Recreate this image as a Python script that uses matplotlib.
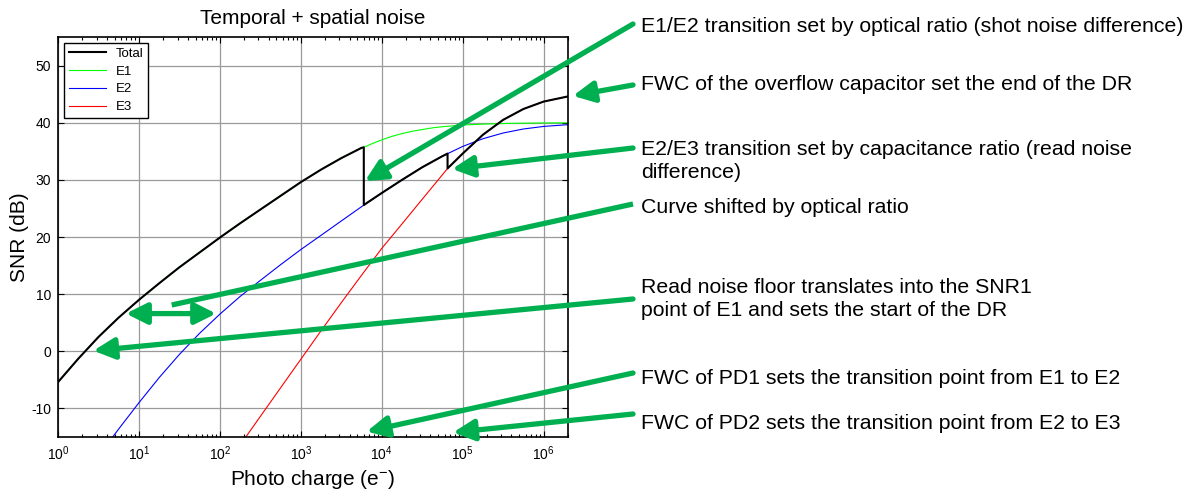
"""SNR vs photo charge for a three-exposure (E1/E2/E3) pixel, with annotations."""

import matplotlib.pyplot as plt

plt.rcParams['font.family'] = ['Liberation Sans', 'DejaVu Sans']
plt.rcParams['mathtext.fontset'] = 'custom'
plt.rcParams['mathtext.rm'] = 'Liberation Sans'
plt.rcParams['mathtext.it'] = 'Liberation Sans:italic'
plt.rcParams['axes.unicode_minus'] = False

# E1 - high conversion gain, large photodiode
e1_charge = [1, 1.78, 3.16, 5.62, 10, 17.8, 31.6, 56.2, 100, 178, 316, 562,
             1e3, 1.78e3, 3.16e3, 5.62e3, 6e3, 7.5e3, 1e4, 1.33e4, 1.78e4,
             2.37e4, 3.16e4, 4.22e4, 5.62e4, 1e5, 1.78e5, 3.16e5, 5.62e5, 1e6, 2e6]
e1_snr = [-5.4, -1.3, 2.5, 5.9, 9.0, 11.9, 14.7, 17.3, 19.9, 22.4, 24.8, 27.2,
          29.6, 31.8, 33.8, 35.6, 35.7, 36.3, 37.0, 37.6, 38.1,
          38.5, 38.8, 39.1, 39.3, 39.6, 39.75, 39.86, 39.92, 39.96, 39.98]

# E2 - small photodiode (shifted by optical ratio)
e2_charge = [3.16, 5.62, 10, 17.8, 31.6, 56.2, 100, 178, 316, 562, 1e3, 1.78e3,
             3.16e3, 5.62e3, 1e4, 1.78e4, 3.16e4, 5.62e4, 1e5, 1.78e5, 3.16e5,
             5.62e5, 1e6, 2e6]
e2_snr = [-18.3, -13.6, -9.0, -4.6, -0.55, 3.15, 6.5, 9.6, 12.4, 15.15, 17.8, 20.3,
          22.8, 25.3, 27.7, 30.0, 32.2, 34.15, 35.85, 37.2, 38.2,
          38.9, 39.35, 39.66]

# E3 - overflow capacitor (low conversion gain)
e3_charge = [178, 316, 562, 1e3, 1.78e3, 3.16e3, 5.62e3, 1e4, 1.78e4, 3.16e4,
             5.62e4, 6.5e4, 1e5, 1.78e5, 3.16e5, 5.62e5, 1e6, 2e6]
e3_snr = [-16.4, -11.4, -6.4, -1.4, 3.6, 8.5, 13.3, 18.0, 22.3, 26.6,
          30.9, 32.0, 34.6, 37.9, 40.5, 42.4, 43.7, 44.6]

# Total = E1 up to FWC of PD1, E2 up to FWC of PD2, then E3
total_charge = [1, 1.78, 3.16, 5.62, 10, 17.8, 31.6, 56.2, 100, 178, 316, 562,
                1e3, 1.78e3, 3.16e3, 5.62e3, 6e3, 6e3, 1e4, 1.78e4, 3.16e4, 5.62e4,
                6.5e4, 6.5e4, 1e5, 1.78e5, 3.16e5, 5.62e5, 1e6, 2e6]
total_snr = [-5.4, -1.3, 2.5, 5.9, 9.0, 11.9, 14.7, 17.3, 19.9, 22.4, 24.8, 27.2,
             29.6, 31.8, 33.8, 35.6, 35.7, 25.6, 27.7, 30.0, 32.2, 34.15,
             34.6, 32.0, 34.6, 37.9, 40.5, 42.4, 43.7, 44.6]

GREEN = '#00b050'
FIG_H = 494

# text, text centre y (px from top), arrow tail y, arrow target (charge, dB), style
notes = [
    ("E1/E2 transition set by optical ratio (shot noise difference)", 27, 24, (6.2e3, 29.8), '-|>'),
    ("FWC of the overflow capacitor set the end of the DR", 84, 85, (2.3e6, 44.7), '-|>'),
    ("E2/E3 transition set by capacitance ratio (read noise\ndifference)", 161, 148, (7.4e4, 31.9), '-|>'),
    ("Curve shifted by optical ratio", 207, 204, (25.4, 8.1), '-'),
    ("Read noise floor translates into the SNR1\npoint of E1 and sets the start of the DR", 299, 299, (2.73, 0.1), '-|>'),
    ("FWC of PD1 sets the transition point from E1 to E2", 378, 373, (6.5e3, -14.05), '-|>'),
    ("FWC of PD2 sets the transition point from E2 to E3", 423, 414, (7.6e4, -14.2), '-|>'),
]
shift_arrow = ((6.9, 6.6), (90, 6.6))


def main() -> None:
    fig = plt.figure(figsize=(11.88, 4.94), dpi=100)
    ax = fig.add_axes([58 / 1188, 57 / 494, 510 / 1188, 400 / 494])

    h1, = ax.plot(e1_charge, e1_snr, color=(0, 1, 0), lw=0.8, zorder=2)
    h2, = ax.plot(e2_charge, e2_snr, color=(0, 0, 1), lw=0.8, zorder=2)
    h3, = ax.plot(e3_charge, e3_snr, color=(1, 0, 0), lw=0.8, zorder=2)
    ht, = ax.plot(total_charge, total_snr, color='black', lw=1.5, zorder=3)

    ax.set_xscale('log')
    ax.set_xlim(1, 2e6)
    ax.set_ylim(-15, 55)
    ax.set_yticks(range(-10, 51, 10))
    ax.set_xticks([1, 10, 100, 1e3, 1e4, 1e5, 1e6])
    ax.grid(True, which='major', color='#9a9a9a', lw=0.9)
    ax.set_axisbelow(True)
    ax.tick_params(which='both', direction='in', top=True, right=True,
                   labelsize=10, width=0.8)
    ax.tick_params(which='major', length=4, pad=5)
    ax.tick_params(which='minor', length=2.5)
    for s in ax.spines.values():
        s.set_linewidth(1.2)

    ax.set_title('Temporal + spatial noise', fontsize=15, pad=9)
    ax.set_xlabel(r'Photo charge (e$^{\mathregular{-}}$)', fontsize=15, labelpad=4)
    ax.set_ylabel('SNR (dB)', fontsize=15, labelpad=1.5)

    leg = ax.legend([ht, h1, h2, h3], ['Total', 'E1', 'E2', 'E3'], loc='upper left',
                    fontsize=9.5, fancybox=False, edgecolor='black', framealpha=1,
                    handlelength=2.8, labelspacing=0.42, borderpad=0.35,
                    borderaxespad=0.45)
    leg.get_frame().set_linewidth(1.0)
    leg.set_zorder(5)

    tail_x = 633
    for text, ty, tail_y, target, style in notes:
        fig.text(641 / 1188, 1 - ty / FIG_H, text, fontsize=15.3, ha='left',
                 va='center', linespacing=1.33)
        if style == '-':
            props = dict(arrowstyle='-', lw=3.8, color=GREEN, shrinkA=0, shrinkB=0,
                         capstyle='butt')
        else:
            props = dict(arrowstyle='-|>,head_length=0.9,head_width=0.45',
                         mutation_scale=14, lw=3.8, color=GREEN, shrinkA=0, shrinkB=0)
        ax.annotate('', xy=target, xycoords='data',
                    xytext=(tail_x, FIG_H - tail_y), textcoords='figure pixels',
                    arrowprops=props, annotation_clip=False, zorder=6)

    (x0, y0), (x1, y1) = shift_arrow
    ax.annotate('', xy=(x0, y0), xytext=(x1, y1),
                arrowprops=dict(arrowstyle='<|-|>,head_length=0.9,head_width=0.45',
                                mutation_scale=14, lw=3.8, color=GREEN,
                                shrinkA=0, shrinkB=0),
                annotation_clip=False, zorder=6)

    fig.savefig('out.png', dpi=100)
    plt.close(fig)


if __name__ == '__main__':
    main()
